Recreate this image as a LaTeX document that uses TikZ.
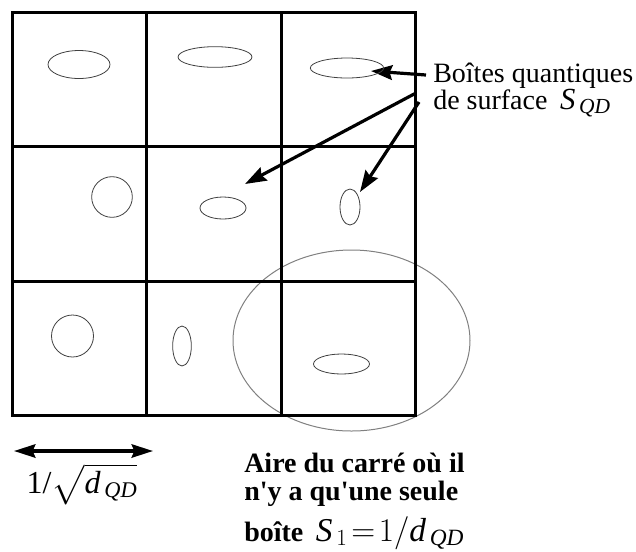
\documentclass[tikz,border=0pt]{standalone}
\usepackage{amsmath}
\usepackage{fontspec}
\setmainfont{Liberation Serif}[Ligatures=TeXOff]
\usepackage{tikz}
\usetikzlibrary{arrows.meta}
\usetikzlibrary{backgrounds}
\usetikzlibrary{shapes,shapes.geometric}
\pgfdeclarelayer{edgelayer}
\pgfdeclarelayer{nodelayer}
\pgfsetlayers{background,edgelayer,nodelayer,main}
\newcommand{\qdit}[1]{\text{\normalfont\itshape #1}}
\tikzstyle{none}=[inner sep=0mm]
\tikzstyle{qd}=[shape=ellipse,draw=black!75,line width=0.6pt,inner sep=0pt,minimum width=0pt,minimum height=0pt]
\tikzstyle{zone}=[shape=ellipse,draw=black!50,line width=0.75pt,inner sep=0pt]
\tikzstyle{cell}=[line width=2.4pt]
\tikzstyle{pointer}=[line width=2.4pt,-{Stealth[length=16pt,width=11pt,inset=2pt]}]
\tikzstyle{span}=[line width=2.4pt,{Stealth[length=16pt,width=10pt,inset=2pt]}-{Stealth[length=16pt,width=10pt,inset=2pt]}]
\tikzstyle{lbl}=[none,align=left,font=\fontsize{21}{20.25}\selectfont]
\tikzstyle{note}=[none,align=left,font=\bfseries\fontsize{21}{21}\selectfont]

\begin{document}
\begin{tikzpicture}[x=0.75pt,y=-0.75pt]
	\useasboundingbox (0,0) rectangle (636,551);
	\begin{pgfonlayer}{background}
		\node [style=zone, minimum width=177.75pt, minimum height=135.75pt] (zone) at (351.5, 340.5) {};
	\end{pgfonlayer}
	\begin{pgfonlayer}{nodelayer}
		\node [style=qd, minimum width=46.5pt, minimum height=21pt] (q11) at (79, 64.5) {};
		\node [style=qd, minimum width=55.5pt, minimum height=15.5pt] (q12) at (215, 57) {};
		\node [style=qd, minimum width=55pt, minimum height=15pt] (q13) at (347, 68) {};
		\node [style=qd, minimum width=30.5pt, minimum height=30.5pt] (q21) at (112, 197) {};
		\node [style=qd, minimum width=34.5pt, minimum height=16.5pt] (q22) at (223, 208) {};
		\node [style=qd, minimum width=15pt, minimum height=27pt] (q23) at (350, 207) {};
		\node [style=qd, minimum width=31.5pt, minimum height=31.5pt] (q31) at (72.5, 336) {};
		\node [style=qd, minimum width=14pt, minimum height=30pt] (q32) at (182, 346) {};
		\node [style=qd, minimum width=42pt, minimum height=15pt] (q33) at (341.5, 364) {};
		\node [style=lbl, anchor=base west] (boxes) at (433, 109) {Boîtes quantiques\\de surface {\fontsize{23}{20}\selectfont$\,\qdit{S}_{\,\qdit{QD}}$}};
		\node [style=note, anchor=base west] (area) at (244, 541) {Aire du carré où il\\n'y a qu'une seule\\[6pt]boîte {\fontsize{25}{21}\selectfont$\,\qdit{S}_{\,1}\!=\!1/\qdit{d}_{\,\qdit{QD}}$}};
		\node [style=none, anchor=base, font=\fontsize{24}{24}\selectfont] (side) at (82, 493) {1/$\sqrt{\qdit{d}_{\,\qdit{QD}}}$};
		\coordinate (p1) at (426, 75);
		\coordinate (p2) at (416, 93);
		\coordinate (p3) at (419, 102);
		\coordinate (h1) at (371, 71);
		\coordinate (h2) at (245, 184);
		\coordinate (h3) at (360, 192);
		\coordinate (sl) at (14, 451);
		\coordinate (sr) at (153, 451);
	\end{pgfonlayer}
	\begin{pgfonlayer}{edgelayer}
		\draw [style=cell] (12.5, 12.5) rectangle (415.5, 415.5);
		\draw [style=cell] (146.8, 12.5) -- (146.8, 415.5);
		\draw [style=cell] (281.2, 12.5) -- (281.2, 415.5);
		\draw [style=cell] (12.5, 146.8) -- (415.5, 146.8);
		\draw [style=cell] (12.5, 281.2) -- (415.5, 281.2);
		\draw [style=pointer] (p1) to (h1);
		\draw [style=pointer] (p2) to (h2);
		\draw [style=pointer] (p3) to (h3);
		\draw [style=span] (sl) to (sr);
	\end{pgfonlayer}
\end{tikzpicture}
\end{document}
